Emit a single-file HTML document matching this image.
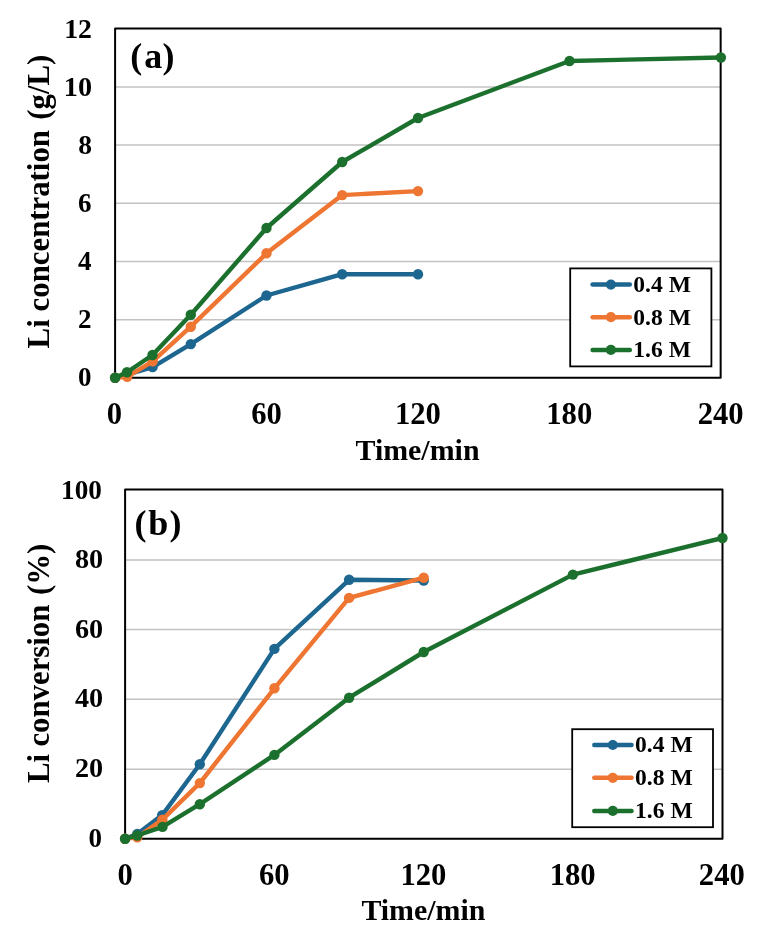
<!DOCTYPE html>
<html><head><meta charset="utf-8"><title>Li leaching</title>
<style>
html,body{margin:0;padding:0;background:#fff}
svg{display:block}
.b{font-family:"Liberation Serif","Times New Roman",serif;font-weight:bold;fill:#000}
</style></head><body>
<svg width="768" height="938" viewBox="0 0 768 938">
<defs><filter id="soft" x="0" y="0" width="768" height="938" filterUnits="userSpaceOnUse"><feGaussianBlur stdDeviation="0.4"/></filter></defs>
<rect width="768" height="938" fill="#fff"/>
<g filter="url(#soft)">
<g id="chart-a">
<line x1="115.1" x2="720.65" y1="319.70" y2="319.70" stroke="#c2c2c2" stroke-width="1.5"/>
<line x1="115.1" x2="720.65" y1="261.50" y2="261.50" stroke="#c2c2c2" stroke-width="1.5"/>
<line x1="115.1" x2="720.65" y1="203.30" y2="203.30" stroke="#c2c2c2" stroke-width="1.5"/>
<line x1="115.1" x2="720.65" y1="145.10" y2="145.10" stroke="#c2c2c2" stroke-width="1.5"/>
<line x1="115.1" x2="720.65" y1="86.90" y2="86.90" stroke="#c2c2c2" stroke-width="1.5"/>
<rect x="115.1" y="28.5" width="605.55" height="349.20" fill="none" stroke="#000" stroke-width="2.0" stroke-linejoin="round"/>
<rect x="570.2" y="268.4" width="141.20" height="98.00" fill="#fff" stroke="#000" stroke-width="1.8"/>
<line x1="592.6" x2="629.8" y1="284.6" y2="284.6" stroke="#1c6690" stroke-width="4.5" stroke-linecap="round"/>
<circle cx="610.9" cy="284.6" r="5.1" fill="#1c6690"/>
<text x="633.3" y="291.90" font-size="23.6" class="b">0.4 M</text>
<line x1="592.6" x2="629.8" y1="317.2" y2="317.2" stroke="#ee7430" stroke-width="4.5" stroke-linecap="round"/>
<circle cx="610.9" cy="317.2" r="5.1" fill="#ee7430"/>
<text x="633.3" y="324.50" font-size="23.6" class="b">0.8 M</text>
<line x1="592.6" x2="629.8" y1="349.9" y2="349.9" stroke="#1c702d" stroke-width="4.5" stroke-linecap="round"/>
<circle cx="610.9" cy="349.9" r="5.1" fill="#1c702d"/>
<text x="633.3" y="357.20" font-size="23.6" class="b">1.6 M</text>
<polyline points="115.1,377.7 127.1,374.7 152.6,367.1 190.8,344.1 266.5,295.5 342.2,274.2 418.0,274.2" fill="none" stroke="#1c6690" stroke-width="4.4" stroke-linejoin="round" stroke-linecap="round"/>
<circle cx="115.1" cy="377.7" r="5.2" fill="#1c6690"/>
<circle cx="127.1" cy="374.7" r="5.2" fill="#1c6690"/>
<circle cx="152.6" cy="367.1" r="5.2" fill="#1c6690"/>
<circle cx="190.8" cy="344.1" r="5.2" fill="#1c6690"/>
<circle cx="266.5" cy="295.5" r="5.2" fill="#1c6690"/>
<circle cx="342.2" cy="274.2" r="5.2" fill="#1c6690"/>
<circle cx="418.0" cy="274.2" r="5.2" fill="#1c6690"/>
<polyline points="115.1,377.7 127.2,376.8 152.7,361.3 190.8,326.7 266.5,253.3 342.2,195.1 418.0,191.1" fill="none" stroke="#ee7430" stroke-width="4.4" stroke-linejoin="round" stroke-linecap="round"/>
<circle cx="115.1" cy="377.7" r="5.2" fill="#ee7430"/>
<circle cx="127.2" cy="376.8" r="5.2" fill="#ee7430"/>
<circle cx="152.7" cy="361.3" r="5.2" fill="#ee7430"/>
<circle cx="190.8" cy="326.7" r="5.2" fill="#ee7430"/>
<circle cx="266.5" cy="253.3" r="5.2" fill="#ee7430"/>
<circle cx="342.2" cy="195.1" r="5.2" fill="#ee7430"/>
<circle cx="418.0" cy="191.1" r="5.2" fill="#ee7430"/>
<polyline points="115.1,377.7 127.0,372.3 152.5,355.0 190.8,314.7 266.5,228.0 342.2,162.0 418.0,118.0 569.5,61.0 720.9,57.5" fill="none" stroke="#1c702d" stroke-width="4.4" stroke-linejoin="round" stroke-linecap="round"/>
<circle cx="115.1" cy="377.7" r="5.2" fill="#1c702d"/>
<circle cx="127.0" cy="372.3" r="5.2" fill="#1c702d"/>
<circle cx="152.5" cy="355.0" r="5.2" fill="#1c702d"/>
<circle cx="190.8" cy="314.7" r="5.2" fill="#1c702d"/>
<circle cx="266.5" cy="228.0" r="5.2" fill="#1c702d"/>
<circle cx="342.2" cy="162.0" r="5.2" fill="#1c702d"/>
<circle cx="418.0" cy="118.0" r="5.2" fill="#1c702d"/>
<circle cx="569.5" cy="61.0" r="5.2" fill="#1c702d"/>
<circle cx="720.9" cy="57.5" r="5.2" fill="#1c702d"/>
<text transform="translate(91.40,386.30) scale(1.0,1)" font-size="27" text-anchor="end" class="b">0</text>
<text transform="translate(91.40,328.00) scale(1.0,1)" font-size="27" text-anchor="end" class="b">2</text>
<text transform="translate(91.40,269.90) scale(1.0,1)" font-size="27" text-anchor="end" class="b">4</text>
<text transform="translate(91.60,211.90) scale(1.0,1)" font-size="27" text-anchor="end" class="b">6</text>
<text transform="translate(92.00,153.90) scale(1.02,1)" font-size="27" text-anchor="end" class="b">8</text>
<text transform="translate(92.00,95.80) scale(1.045,1)" font-size="27" text-anchor="end" class="b">10</text>
<text transform="translate(92.00,37.60) scale(1.03,1)" font-size="27" text-anchor="end" class="b">12</text>
<text transform="translate(114.40,423.8) scale(0.958,1)" font-size="32" text-anchor="middle" class="b">0</text>
<text transform="translate(266.49,423.8) scale(0.958,1)" font-size="32" text-anchor="middle" class="b">60</text>
<text transform="translate(417.88,423.8) scale(0.958,1)" font-size="32" text-anchor="middle" class="b">120</text>
<text transform="translate(569.26,423.8) scale(0.958,1)" font-size="32" text-anchor="middle" class="b">180</text>
<text transform="translate(720.65,423.8) scale(0.958,1)" font-size="32" text-anchor="middle" class="b">240</text>
<text x="417.5" y="459.8" font-size="29.9" text-anchor="middle" class="b">Time/min</text>
<text transform="translate(48.8,348.4) rotate(-90)" font-size="30.8" text-anchor="start" class="b">Li<tspan dx="0.2"> concentration</tspan><tspan dx="2.7"> (g/L)</tspan></text>
<text x="130.3" y="68.2" dx="0 2 0.2" font-size="36" class="b">(a)</text>
</g>
<g id="chart-b">
<line x1="125.1" x2="722.5" y1="769.13" y2="769.13" stroke="#c2c2c2" stroke-width="1.5"/>
<line x1="125.1" x2="722.5" y1="699.26" y2="699.26" stroke="#c2c2c2" stroke-width="1.5"/>
<line x1="125.1" x2="722.5" y1="629.39" y2="629.39" stroke="#c2c2c2" stroke-width="1.5"/>
<line x1="125.1" x2="722.5" y1="559.90" y2="559.90" stroke="#c2c2c2" stroke-width="1.5"/>
<rect x="125.1" y="489.45" width="597.40" height="349.35" fill="none" stroke="#000" stroke-width="2.0" stroke-linejoin="round"/>
<rect x="572.2" y="729.2" width="140.80" height="98.00" fill="#fff" stroke="#000" stroke-width="1.8"/>
<line x1="594.3" x2="631.5" y1="745.0" y2="745.0" stroke="#1c6690" stroke-width="4.5" stroke-linecap="round"/>
<circle cx="612.8" cy="745.0" r="5.1" fill="#1c6690"/>
<text x="635" y="752.30" font-size="23.6" class="b">0.4 M</text>
<line x1="594.3" x2="631.5" y1="777.8" y2="777.8" stroke="#ee7430" stroke-width="4.5" stroke-linecap="round"/>
<circle cx="612.8" cy="777.8" r="5.1" fill="#ee7430"/>
<text x="635" y="785.10" font-size="23.6" class="b">0.8 M</text>
<line x1="594.3" x2="631.5" y1="810.9" y2="810.9" stroke="#1c702d" stroke-width="4.5" stroke-linecap="round"/>
<circle cx="612.8" cy="810.9" r="5.1" fill="#1c702d"/>
<text x="635" y="818.20" font-size="23.6" class="b">1.6 M</text>
<polyline points="125.1,838.7 137.3,834.0 162.2,815.1 199.8,764.3 274.4,648.9 349.1,579.8 423.7,580.5" fill="none" stroke="#1c6690" stroke-width="4.4" stroke-linejoin="round" stroke-linecap="round"/>
<circle cx="125.1" cy="838.7" r="5.2" fill="#1c6690"/>
<circle cx="137.3" cy="834.0" r="5.2" fill="#1c6690"/>
<circle cx="162.2" cy="815.1" r="5.2" fill="#1c6690"/>
<circle cx="199.8" cy="764.3" r="5.2" fill="#1c6690"/>
<circle cx="274.4" cy="648.9" r="5.2" fill="#1c6690"/>
<circle cx="349.1" cy="579.8" r="5.2" fill="#1c6690"/>
<circle cx="423.7" cy="580.5" r="5.2" fill="#1c6690"/>
<polyline points="125.1,838.7 137.3,837.2 162.4,819.6 199.8,783.1 274.4,688.3 349.1,597.9 423.7,577.7" fill="none" stroke="#ee7430" stroke-width="4.4" stroke-linejoin="round" stroke-linecap="round"/>
<circle cx="125.1" cy="838.7" r="5.2" fill="#ee7430"/>
<circle cx="137.3" cy="837.2" r="5.2" fill="#ee7430"/>
<circle cx="162.4" cy="819.6" r="5.2" fill="#ee7430"/>
<circle cx="199.8" cy="783.1" r="5.2" fill="#ee7430"/>
<circle cx="274.4" cy="688.3" r="5.2" fill="#ee7430"/>
<circle cx="349.1" cy="597.9" r="5.2" fill="#ee7430"/>
<circle cx="423.7" cy="577.7" r="5.2" fill="#ee7430"/>
<polyline points="125.1,838.7 137.2,835.5 162.5,826.9 199.8,804.2 274.4,754.9 349.1,697.7 423.7,652.0 572.9,574.6 722.5,538.0" fill="none" stroke="#1c702d" stroke-width="4.4" stroke-linejoin="round" stroke-linecap="round"/>
<circle cx="125.1" cy="838.7" r="5.2" fill="#1c702d"/>
<circle cx="137.2" cy="835.5" r="5.2" fill="#1c702d"/>
<circle cx="162.5" cy="826.9" r="5.2" fill="#1c702d"/>
<circle cx="199.8" cy="804.2" r="5.2" fill="#1c702d"/>
<circle cx="274.4" cy="754.9" r="5.2" fill="#1c702d"/>
<circle cx="349.1" cy="697.7" r="5.2" fill="#1c702d"/>
<circle cx="423.7" cy="652.0" r="5.2" fill="#1c702d"/>
<circle cx="572.9" cy="574.6" r="5.2" fill="#1c702d"/>
<circle cx="722.5" cy="538.0" r="5.2" fill="#1c702d"/>
<text transform="translate(102.10,847.00) scale(1.0,1)" font-size="27" text-anchor="end" class="b">0</text>
<text transform="translate(103.20,777.13) scale(1.045,1)" font-size="27" text-anchor="end" class="b">20</text>
<text transform="translate(103.20,707.26) scale(1.045,1)" font-size="27" text-anchor="end" class="b">40</text>
<text transform="translate(103.20,638.29) scale(1.045,1)" font-size="27" text-anchor="end" class="b">60</text>
<text transform="translate(103.20,568.42) scale(1.045,1)" font-size="27" text-anchor="end" class="b">80</text>
<text transform="translate(101.90,498.55) scale(1.008,1)" font-size="27" text-anchor="end" class="b">100</text>
<text transform="translate(125.10,885.3) scale(0.958,1)" font-size="32" text-anchor="middle" class="b">0</text>
<text transform="translate(274.27,885.3) scale(0.958,1)" font-size="32" text-anchor="middle" class="b">60</text>
<text transform="translate(423.45,885.3) scale(0.958,1)" font-size="32" text-anchor="middle" class="b">120</text>
<text transform="translate(572.62,885.3) scale(0.958,1)" font-size="32" text-anchor="middle" class="b">180</text>
<text transform="translate(721.80,885.3) scale(0.958,1)" font-size="32" text-anchor="middle" class="b">240</text>
<text x="423.4" y="920.1" font-size="29.9" text-anchor="middle" class="b">Time/min</text>
<text transform="translate(48.8,783.1) rotate(-90)" font-size="30.8" text-anchor="start" class="b">Li<tspan dx="-0.3"> conversion</tspan><tspan dx="1.9"> (%)</tspan></text>
<text x="134.4" y="534.9" dx="0 1.9 1.2" font-size="36" class="b">(b)</text>
</g>
</g>
</svg>
</body></html>
